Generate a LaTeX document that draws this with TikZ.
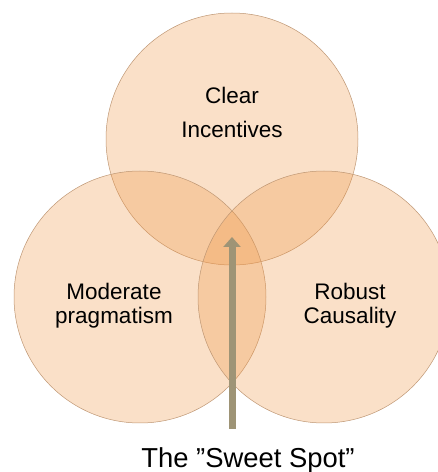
\documentclass[tikz,border=0pt]{standalone}
\usepackage{fontspec}
\setmainfont{Liberation Sans}
\usetikzlibrary{arrows.meta}

\definecolor{peach}{RGB}{238,152,72}
\definecolor{rim}{RGB}{190,150,115}
\definecolor{olive}{RGB}{158,148,118}

\begin{document}
\begin{tikzpicture}[x=1pt, y=1pt,
  set/.style={circle, draw=rim, line width=0.5pt, fill=peach, fill opacity=0.3,
    minimum size=252pt, inner sep=0pt},
  settext/.style={align=center, text=black, font=\fontsize{22.5}{24}\selectfont},
  spotarrow/.style={-{Triangle[width=17pt, length=10pt]}, line width=7pt, draw=olive}]
  \useasboundingbox (0,0) rectangle (438,472);
  \clip (0,0) rectangle (438,472);

  \node[set] (clear) at (232,333) {};
  \node[set] (moderate) at (140,175) {};
  \node[set] (robust) at (324,175) {};

  \node[settext, font=\fontsize{22.5}{34}\selectfont] at (232,360) (cleartext) {Clear\\Incentives};
  \node[settext] at (114,166) (moderatetext) {Moderate\\pragmatism};
  \node[settext] at (350,166) (robusttext) {Robust\\Causality};

  \node[anchor=base, font=\fontsize{27.4}{30}\selectfont] at (248,5) (sweet) {The ”Sweet Spot”};

  \coordinate (tail) at (232,43);
  \coordinate (tip) at (232,235);
  \draw[spotarrow] (tail) -- (tip);
\end{tikzpicture}
\end{document}
